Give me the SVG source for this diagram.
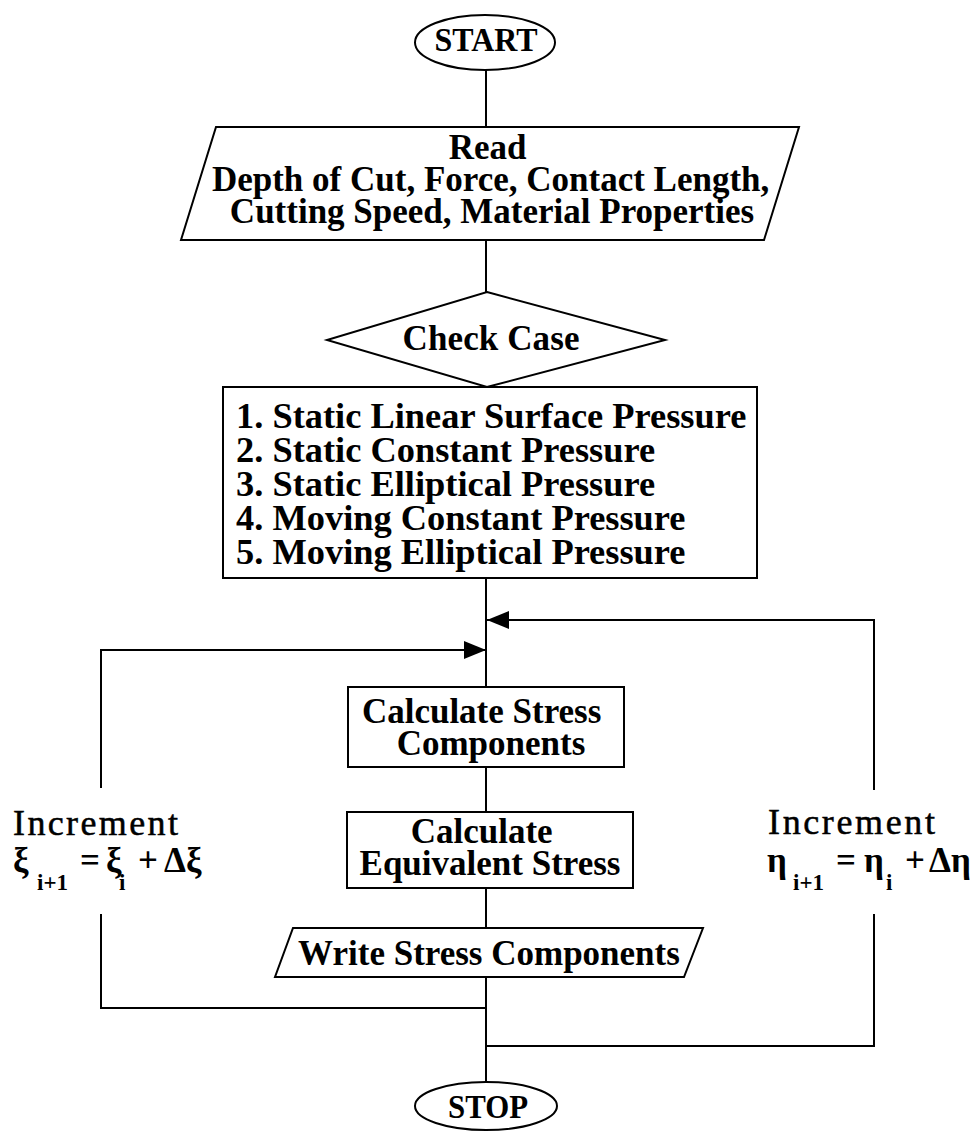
<svg xmlns="http://www.w3.org/2000/svg" width="970" height="1131" viewBox="0 0 970 1131">
  <style>
    .shape { fill: #fff; stroke: #000; stroke-width: 2; }
    .wire { fill: none; stroke: #000; stroke-width: 2; }
    .t { font-family: "Liberation Serif", "Times New Roman", serif; font-weight: bold; font-size: 35px; fill: #000; }
    .c { text-anchor: middle; }
    .list { font-size: 36.4px; }
    .term { font-size: 34px; }
    .lbl { font-family: "Liberation Serif", "Times New Roman", serif; font-size: 36px; fill: #000; stroke: #000; stroke-width: 0.5; }
    .eq { font-family: "Liberation Serif", "Times New Roman", serif; font-weight: bold; font-size: 35px; fill: #000; }
    .sub { font-size: 23px; }
  </style>
  <defs>
    <marker id="arrow" markerUnits="userSpaceOnUse" markerWidth="22" markerHeight="18" refX="22" refY="9" orient="auto">
      <path d="M0,0 L22,9 L0,18 Z" fill="#000"/>
    </marker>
  </defs>

  <rect width="970" height="1131" fill="#fff"/>

  <!-- connectors -->
  <g id="connectors">
    <line class="wire" x1="486" y1="70" x2="486" y2="127"/>
    <line class="wire" x1="486" y1="240" x2="486" y2="292"/>
    <line class="wire" x1="486" y1="578" x2="486" y2="687"/>
    <line class="wire" x1="486" y1="767" x2="486" y2="812"/>
    <line class="wire" x1="486" y1="888" x2="486" y2="928"/>
    <line class="wire" x1="486" y1="977" x2="486" y2="1082"/>
    <!-- outer loop (eta) -->
    <polyline class="wire" points="486,1046 874,1046 874,914"/>
    <polyline class="wire" points="874,790 874,620 487,620" marker-end="url(#arrow)"/>
    <!-- inner loop (xi) -->
    <polyline class="wire" points="486,1008 101,1008 101,914"/>
    <polyline class="wire" points="101,788 101,650 486,650" marker-end="url(#arrow)"/>
  </g>

  <g id="start">
    <ellipse class="shape" cx="485" cy="42.5" rx="70" ry="27.5"/>
    <text class="t c term" x="486" y="51" textLength="103" lengthAdjust="spacingAndGlyphs">START</text>
  </g>

  <g id="read">
    <polygon class="shape" points="216,127 799,127 764,240 181,240"/>
    <text class="t c">
      <tspan x="492" y="159">Read</tspan>
      <tspan x="495" y="191">Depth of Cut, Force, Contact Length,</tspan>
      <tspan x="492" y="223">Cutting Speed, Material Properties</tspan>
    </text>
  </g>

  <g id="check-case">
    <polygon class="shape" points="487,292 665,340 487,387 327,340"/>
    <text class="t c" x="491" y="350" textLength="177">Check Case</text>
  </g>

  <g id="cases">
    <rect class="shape" x="223" y="387" width="534" height="191"/>
    <text class="t list">
      <tspan x="236" y="428">1. Static Linear Surface Pressure</tspan>
      <tspan x="236" y="462">2. Static Constant Pressure</tspan>
      <tspan x="236" y="496">3. Static Elliptical Pressure</tspan>
      <tspan x="236" y="530">4. Moving Constant Pressure</tspan>
      <tspan x="236" y="564">5. Moving Elliptical Pressure</tspan>
    </text>
  </g>

  <g id="calc-stress">
    <rect class="shape" x="348" y="687" width="276" height="80"/>
    <text class="t c">
      <tspan x="486" y="723">Calculate Stress</tspan>
      <tspan x="491" y="755">Components</tspan>
    </text>
  </g>

  <g id="calc-equivalent">
    <rect class="shape" x="347" y="812" width="286" height="76"/>
    <text class="t c">
      <tspan x="486" y="843">Calculate</tspan>
      <tspan x="490" y="875">Equivalent Stress</tspan>
    </text>
  </g>

  <g id="write">
    <polygon class="shape" points="293,928 703,928 684,977 275,977"/>
    <text class="t c" x="489" y="965">Write Stress Components</text>
  </g>

  <g id="stop">
    <ellipse class="shape" cx="486" cy="1106" rx="71" ry="24"/>
    <text class="t c term" x="488" y="1118" textLength="80" lengthAdjust="spacingAndGlyphs">STOP</text>
  </g>

  <g id="label-xi">
    <text class="lbl" x="13" y="835" textLength="165">Increment</text>
    <text class="eq">
      <tspan x="13" y="872">ξ</tspan>
      <tspan class="sub" x="37" y="890">i+1</tspan>
      <tspan x="80" y="872">=</tspan>
      <tspan x="106" y="872">ξ</tspan>
      <tspan class="sub" x="119" y="890">i</tspan>
      <tspan x="138" y="872">+</tspan>
      <tspan x="164" y="872">Δξ</tspan>
    </text>
  </g>

  <g id="label-eta">
    <text class="lbl" x="768" y="834" textLength="167">Increment</text>
    <text class="eq">
      <tspan x="767" y="872">η</tspan>
      <tspan class="sub" x="793" y="890">i+1</tspan>
      <tspan x="836" y="872">=</tspan>
      <tspan x="864" y="872">η</tspan>
      <tspan class="sub" x="886" y="890">i</tspan>
      <tspan x="905" y="872">+</tspan>
      <tspan x="929" y="872">Δη</tspan>
    </text>
  </g>
</svg>
